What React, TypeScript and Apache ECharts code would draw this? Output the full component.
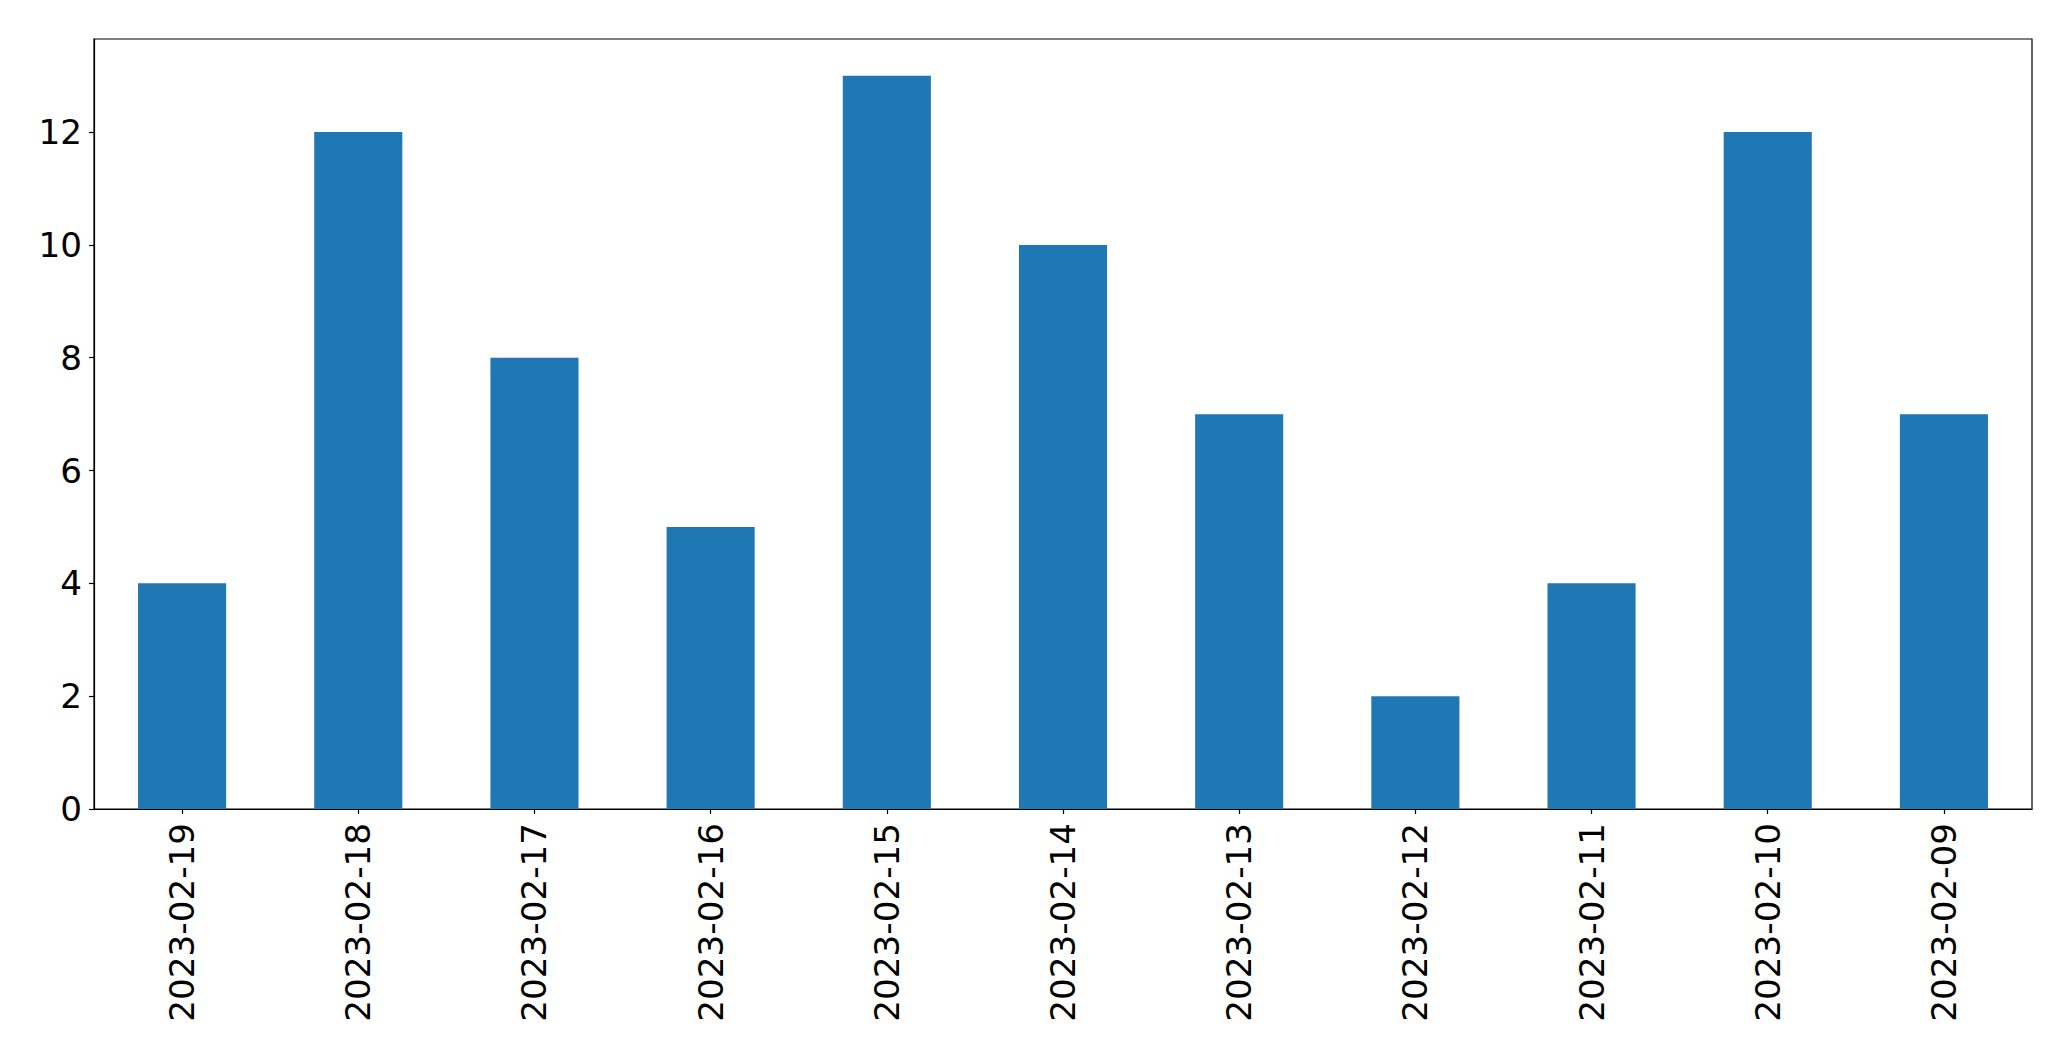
import React, { useEffect, useRef } from "react";
import * as echarts from "echarts";

const categories = [
  "2023-02-19",
  "2023-02-18",
  "2023-02-17",
  "2023-02-16",
  "2023-02-15",
  "2023-02-14",
  "2023-02-13",
  "2023-02-12",
  "2023-02-11",
  "2023-02-10",
  "2023-02-09",
];
const values = [4, 12, 8, 5, 13, 10, 7, 2, 4, 12, 7];
const yTicks = [0, 2, 4, 6, 8, 10, 12];

export default function App() {
  const ref = useRef<HTMLDivElement>(null);
  useEffect(() => {
    if (!ref.current) return;
    const chart = echarts.init(ref.current, undefined, { renderer: "svg" });
    const font = "DejaVu Sans";
    chart.setOption({
      animation: false,
      backgroundColor: "#ffffff",
      grid: {
        left: 94,
        right: 39,
        top: 39,
        bottom: 252,
        show: true,
        borderColor: "#000000",
        borderWidth: 1.2,
        containLabel: false,
      },
      xAxis: {
        type: "category",
        data: categories,
        axisLine: { show: true, lineStyle: { color: "#000", width: 1.2 } },
        axisTick: { show: true, alignWithLabel: true, length: 5, lineStyle: { color: "#000", width: 1.2 } },
        axisLabel: {
          rotate: 90,
          margin: 14,
          color: "#000",
          fontFamily: font,
          fontSize: 34.2,
          interval: 0,
        },
        splitLine: { show: false },
      },
      yAxis: {
        type: "value",
        min: 0,
        max: 13.65,
        interval: 2,
        axisLine: { show: true, lineStyle: { color: "#000", width: 1.2 } },
        axisTick: { show: true, length: 5, lineStyle: { color: "#000", width: 1.2 }, customValues: yTicks },
        axisLabel: {
          margin: 12,
          color: "#000",
          fontFamily: font,
          fontSize: 34.2,
          customValues: yTicks,
        },
        splitLine: { show: false },
      },
      series: [
        {
          type: "bar",
          data: values,
          barWidth: "50%",
          itemStyle: { color: "#1f77b4" },
        },
      ],
    });
    return () => chart.dispose();
  }, []);
  return (
    <div
      ref={ref}
      style={{ position: "fixed", left: 0, top: 0, width: 2071, height: 1061, background: "#fff" }}
    />
  );
}
